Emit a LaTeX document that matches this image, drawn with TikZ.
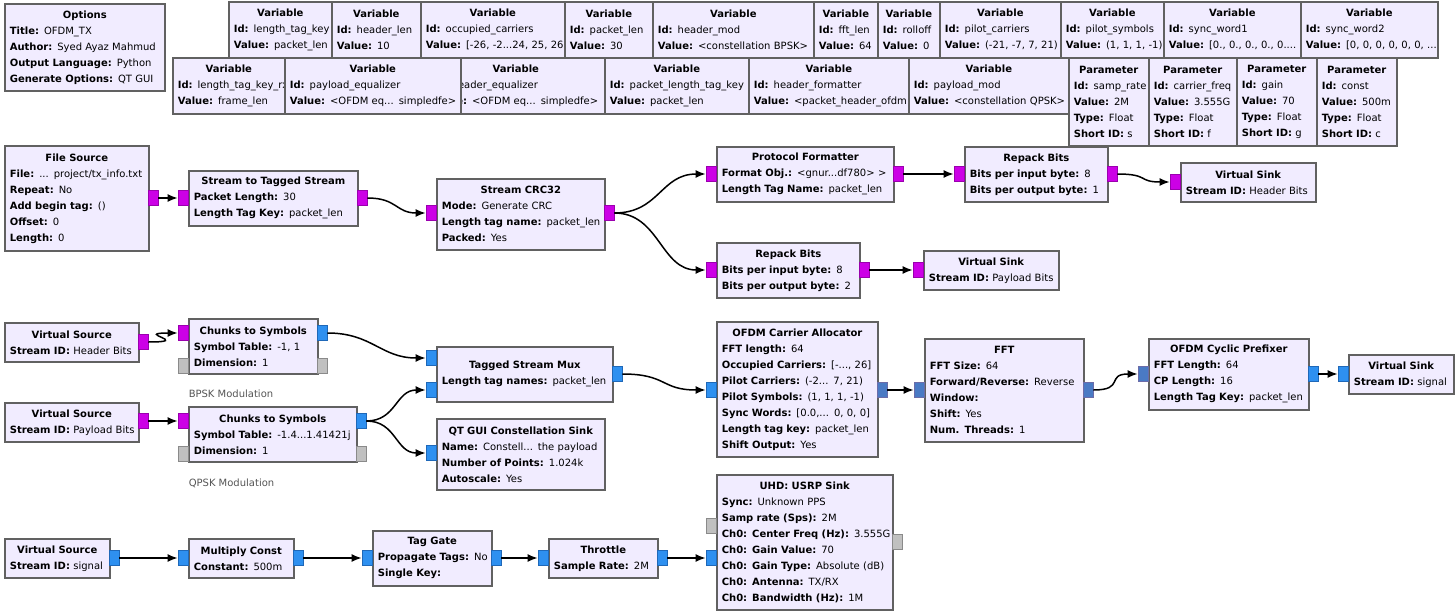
\documentclass[tikz,border=0pt]{standalone}
\usepackage{fontspec}
\setmainfont{DejaVu Sans}
\usetikzlibrary{arrows.meta,positioning}

\definecolor{blkfill}{HTML}{F1ECFF}
\definecolor{blkedge}{HTML}{616161}
\definecolor{bytefill}{HTML}{CC00E6}
\definecolor{byteedge}{HTML}{9A00AE}
\definecolor{cpxfill}{HTML}{2E90F0}
\definecolor{cpxedge}{HTML}{1F68B8}
\definecolor{vecfill}{HTML}{4A7AC4}
\definecolor{vecedge}{HTML}{6C6CA8}
\definecolor{msgfill}{HTML}{C0C0C0}
\definecolor{msgedge}{HTML}{8A8A8A}
\definecolor{notegray}{HTML}{555555}

\newcommand{\ttl}[1]{\makebox[\linewidth]{\textbf{#1}}}
\newcommand{\kv}[2]{\mbox{\textbf{#1:} #2}}

\tikzset{
  blk/.style 2 args={draw=blkedge,fill=blkfill,line width=1.6pt,anchor=north west,
    align=left,inner xsep=5pt,inner ysep=0pt,text width=#1pt,minimum height=#2pt,
    font=\fontsize{10}{16}\selectfont},
  port/.style={minimum width=10pt,minimum height=15pt,inner sep=0pt,line width=0.8pt},
  byt/.style={port,fill=bytefill,draw=byteedge},
  cpx/.style={port,fill=cpxfill,draw=cpxedge},
  vec/.style={port,fill=vecfill,draw=vecedge},
  msg/.style={port,fill=msgfill,draw=msgedge},
  note/.style={anchor=west,inner sep=0pt,text=notegray,font=\fontsize{10}{16}\selectfont}
}

\begin{document}
\begin{tikzpicture}[x=1pt,y=-1pt,->,>={Latex[length=10pt,width=8pt]},line width=1.5pt]
  \useasboundingbox (0,0) rectangle (1455,615);

  \node[blk={150}{87}] (opt) at (4,3) {\ttl{Options}\\\kv{Title}{OFDM\_TX}\\\kv{Author}{Syed Ayaz Mahmud}\\\kv{Output Language}{Python}\\\kv{Generate Options}{QT GUI}};

  \node[blk={93}{56}] (ltk) at (228,1) {\ttl{Variable}\\\kv{Id}{length\_tag\_key}\\\kv{Value}{packet\_len}};
  \node[blk={79}{56}] (hlen) at (331,1) {\ttl{Variable}\\\kv{Id}{header\_len}\\\kv{Value}{10}};
  \node[blk={134}{56}] (occ) at (420,1) {\ttl{Variable}\\\kv{Id}{occupied\_carriers}\\\kv{Value}{[-26, -2...24, 25, 26]}};
  \node[blk={78}{56}] (plen) at (564,1) {\ttl{Variable}\\\kv{Id}{packet\_len}\\\kv{Value}{30}};
  \node[blk={151}{56}] (hmod) at (652,1) {\ttl{Variable}\\\kv{Id}{header\_mod}\\\kv{Value}{<constellation BPSK>}};
  \node[blk={54}{56}] (fftlen) at (813,1) {\ttl{Variable}\\\kv{Id}{fft\_len}\\\kv{Value}{64}};
  \node[blk={52}{56}] (roll) at (877,1) {\ttl{Variable}\\\kv{Id}{rolloff}\\\kv{Value}{0}};
  \node[blk={111}{56}] (pcar) at (939,1) {\ttl{Variable}\\\kv{Id}{pilot\_carriers}\\\kv{Value}{(-21, -7, 7, 21)}};
  \node[blk={93}{56}] (psym) at (1060,1) {\ttl{Variable}\\\kv{Id}{pilot\_symbols}\\\kv{Value}{(1, 1, 1, -1)}};
  \node[blk={127}{56}] (sw1) at (1163,1) {\ttl{Variable}\\\kv{Id}{sync\_word1}\\\kv{Value}{[0., 0., 0., 0., 0....}};
  \node[blk={127}{56}] (sw2) at (1300,1) {\ttl{Variable}\\\kv{Id}{sync\_word2}\\\kv{Value}{[0, 0, 0, 0, 0, 0, ...}};

  \node[blk={102}{56}] (ltkrx) at (172,57) {\ttl{Variable}\\\kv{Id}{length\_tag\_key\_rx}\\\kv{Value}{frame\_len}};
  \node[blk={168}{56}] (heq) at (426,57) {\ttl{Variable}\\\kv{Id}{header\_equalizer}\\\kv{Value}{<OFDM eq... simpledfe>}};
  \node[blk={166}{56}] (peq) at (284,57) {\ttl{Variable}\\\kv{Id}{payload\_equalizer}\\\kv{Value}{<OFDM eq... simpledfe>}};
  \node[blk={134}{56}] (pltk) at (604,57) {\ttl{Variable}\\\kv{Id}{packet\_length\_tag\_key}\\\kv{Value}{packet\_len}};
  \node[blk={150}{56}] (hfmt) at (748,57) {\ttl{Variable}\\\kv{Id}{header\_formatter}\\\kv{Value}{<packet\_header\_ofdm}};
  \node[blk={150}{56}] (pmod) at (908,57) {\ttl{Variable}\\\kv{Id}{payload\_mod}\\\kv{Value}{<constellation QPSK>}};

  \node[blk={70}{88}] (srate) at (1068,57) {\ttl{Parameter}\\\kv{Id}{samp\_rate}\\\kv{Value}{2M}\\\kv{Type}{Float}\\\kv{Short ID}{s}};
  \node[blk={78}{88}] (cfreq) at (1148,57) {\ttl{Parameter}\\\kv{Id}{carrier\_freq}\\\kv{Value}{3.555G}\\\kv{Type}{Float}\\\kv{Short ID}{f}};
  \node[blk={70}{88}] (gain) at (1236,57) {\ttl{Parameter}\\\kv{Id}{gain}\\\kv{Value}{70}\\\kv{Type}{Float}\\\kv{Short ID}{g}};
  \node[blk={70}{88}] (const) at (1316,57) {\ttl{Parameter}\\\kv{Id}{const}\\\kv{Value}{500m}\\\kv{Type}{Float}\\\kv{Short ID}{c}};

  \node[blk={134}{105}] (fs) at (4,145) {\ttl{File Source}\\\kv{File}{... project/tx\_info.txt}\\\kv{Repeat}{No}\\\kv{Add begin tag}{()}\\\kv{Offset}{0}\\\kv{Length}{0}};
  \node[blk={159}{55}] (s2t) at (188,170) {\ttl{Stream to Tagged Stream}\\\kv{Packet Length}{30}\\\kv{Length Tag Key}{packet\_len}};
  \node[blk={158}{71}] (crc) at (436,178) {\ttl{Stream CRC32}\\\kv{Mode}{Generate CRC}\\\kv{Length tag name}{packet\_len}\\\kv{Packed}{Yes}};
  \node[blk={167}{55}] (pf) at (716,146) {\ttl{Protocol Formatter}\\\kv{Format Obj.}{<gnur...df780> >}\\\kv{Length Tag Name}{packet\_len}};
  \node[blk={133}{55}] (rp1) at (964,146) {\ttl{Repack Bits}\\\kv{Bits per input byte}{8}\\\kv{Bits per output byte}{1}};
  \node[blk={125}{39}] (vsk1) at (1180,162) {\ttl{Virtual Sink}\\\kv{Stream ID}{Header Bits}};
  \node[blk={133}{55}] (rp2) at (716,242) {\ttl{Repack Bits}\\\kv{Bits per input byte}{8}\\\kv{Bits per output byte}{2}};
  \node[blk={125}{39}] (vsk2) at (923,250) {\ttl{Virtual Sink}\\\kv{Stream ID}{Payload Bits}};

  \node[blk={124}{39}] (vs1) at (4,322) {\ttl{Virtual Source}\\\kv{Stream ID}{Header Bits}};
  \node[blk={119}{55}] (cts1) at (188,318) {\ttl{Chunks to Symbols}\\\kv{Symbol Table}{-1, 1}\\\kv{Dimension}{1}};
  \node[blk={124}{39}] (vs2) at (4,402) {\ttl{Virtual Source}\\\kv{Stream ID}{Payload Bits}};
  \node[blk={158}{55}] (cts2) at (188,406) {\ttl{Chunks to Symbols}\\\kv{Symbol Table}{-1.4...1.41421j}\\\kv{Dimension}{1}};
  \node[blk={166}{55}] (tsm) at (436,346) {\ttl{Tagged Stream Mux}\\\kv{Length tag names}{packet\_len}};
  \node[blk={158}{71}] (qt) at (436,418) {\ttl{QT GUI Constellation Sink}\\\kv{Name}{Constell... the payload}\\\kv{Number of Points}{1.024k}\\\kv{Autoscale}{Yes}};
  \node[note] (bpsk) at (188,394) {BPSK Modulation};
  \node[note] (qpsk) at (188,483) {QPSK Modulation};

  \node[blk={151}{135}] (oca) at (716,321) {\ttl{OFDM Carrier Allocator}\\\kv{FFT length}{64}\\\kv{Occupied Carriers}{[-..., 26]}\\\kv{Pilot Carriers}{(-2... 7, 21)}\\\kv{Pilot Symbols}{(1, 1, 1, -1)}\\\kv{Sync Words}{[0.0,... 0, 0, 0]}\\\kv{Length tag key}{packet\_len}\\\kv{Shift Output}{Yes}};
  \node[blk={149}{103}] (fft) at (924,338) {\ttl{FFT}\\\kv{FFT Size}{64}\\\kv{Forward/Reverse}{Reverse}\\\kv{Window}{}\\\kv{Shift}{Yes}\\\kv{Num. Threads}{1}};
  \node[blk={150}{71}] (cp) at (1148,338) {\ttl{OFDM Cyclic Prefixer}\\\kv{FFT Length}{64}\\\kv{CP Length}{16}\\\kv{Length Tag Key}{packet\_len}};
  \node[blk={95}{39}] (vsk3) at (1348,354) {\ttl{Virtual Sink}\\\kv{Stream ID}{signal}};

  \node[blk={95}{39}] (vs3) at (4,538) {\ttl{Virtual Source}\\\kv{Stream ID}{signal}};
  \node[blk={95}{39}] (mc) at (188,538) {\ttl{Multiply Const}\\\kv{Constant}{500m}};
  \node[blk={109}{55}] (tg) at (372,530) {\ttl{Tag Gate}\\\kv{Propagate Tags}{No}\\\kv{Single Key}{}};
  \node[blk={99}{39}] (th) at (548,538) {\ttl{Throttle}\\\kv{Sample Rate}{2M}};
  \node[blk={166}{135}] (usrp) at (716,474) {\ttl{UHD: USRP Sink}\\\kv{Sync}{Unknown PPS}\\\kv{Samp rate (Sps)}{2M}\\\kv{Ch0: Center Freq (Hz)}{3.555G}\\\kv{Ch0: Gain Value}{70}\\\kv{Ch0: Gain Type}{Absolute (dB)}\\\kv{Ch0: Antenna}{TX/RX}\\\kv{Ch0: Bandwidth (Hz)}{1M}};

  \node[byt] (fs-o) at (153,198) {};
  \node[byt] (s2t-i) at (183,198) {};
  \node[byt] (s2t-o) at (362,198) {};
  \node[byt] (crc-i) at (431,213) {};
  \node[byt] (crc-o) at (609,213) {};
  \node[byt] (pf-i) at (711,174) {};
  \node[byt] (pf-o) at (898,174) {};
  \node[byt] (rp1-i) at (959,174) {};
  \node[byt] (rp1-o) at (1112,174) {};
  \node[byt] (vsk1-i) at (1175,182) {};
  \node[byt] (rp2-i) at (711,270) {};
  \node[byt] (rp2-o) at (864,270) {};
  \node[byt] (vsk2-i) at (918,270) {};
  \node[byt] (vs1-o) at (143,342) {};
  \node[byt] (cts1-i) at (183,333) {};
  \node[cpx] (cts1-o) at (322,333) {};
  \node[msg] (cts1-mi) at (183,366) {};
  \node[msg] (cts1-mo) at (322,366) {};
  \node[byt] (vs2-o) at (143,421) {};
  \node[byt] (cts2-i) at (183,421) {};
  \node[cpx] (cts2-o) at (361,421) {};
  \node[msg] (cts2-mi) at (183,454) {};
  \node[msg] (cts2-mo) at (361,454) {};
  \node[cpx] (tsm-i1) at (431,358) {};
  \node[cpx] (tsm-i2) at (431,390) {};
  \node[cpx] (tsm-o) at (617,374) {};
  \node[cpx] (qt-i) at (431,453) {};
  \node[cpx] (oca-i) at (711,390) {};
  \node[vec] (oca-o) at (882,390) {};
  \node[vec] (fft-i) at (919,390) {};
  \node[vec] (fft-o) at (1088,390) {};
  \node[vec] (cp-i) at (1143,374) {};
  \node[cpx] (cp-o) at (1313,374) {};
  \node[cpx] (vsk3-i) at (1343,374) {};
  \node[cpx] (vs3-o) at (114,558) {};
  \node[cpx] (mc-i) at (183,558) {};
  \node[cpx] (mc-o) at (298,558) {};
  \node[cpx] (tg-i) at (367,558) {};
  \node[cpx] (tg-o) at (496,558) {};
  \node[cpx] (th-i) at (543,558) {};
  \node[cpx] (th-o) at (662,558) {};
  \node[cpx] (usrp-i) at (711,558) {};
  \node[msg] (usrp-m1) at (711,526) {};
  \node[msg] (usrp-m2) at (897,542) {};

  \draw (fs-o) -- (s2t-i);
  \draw (s2t-o) .. controls ([xshift=30] s2t-o.east) and ([xshift=-30] crc-i.west) .. (crc-i);
  \draw (crc-o) .. controls ([xshift=45] crc-o.east) and ([xshift=-45] pf-i.west) .. (pf-i);
  \draw (crc-o) .. controls ([xshift=45] crc-o.east) and ([xshift=-45] rp2-i.west) .. (rp2-i);
  \draw (pf-o) -- (rp1-i);
  \draw (rp1-o) .. controls ([xshift=32] rp1-o.east) and ([xshift=-32] vsk1-i.west) .. (vsk1-i);
  \draw (rp2-o) -- (vsk2-i);
  \draw (vs1-o) .. controls ([xshift=45] vs1-o.east) and ([xshift=-45] cts1-i.west) .. (cts1-i);
  \draw (vs2-o) -- (cts2-i);
  \draw (cts1-o) .. controls ([xshift=45] cts1-o.east) and ([xshift=-45] tsm-i1.west) .. (tsm-i1);
  \draw (cts2-o) .. controls ([xshift=30] cts2-o.east) and ([xshift=-30] tsm-i2.west) .. (tsm-i2);
  \draw (cts2-o) .. controls ([xshift=30] cts2-o.east) and ([xshift=-30] qt-i.west) .. (qt-i);
  \draw (tsm-o) .. controls ([xshift=45] tsm-o.east) and ([xshift=-45] oca-i.west) .. (oca-i);
  \draw (oca-o) -- (fft-i);
  \draw (fft-o) .. controls ([xshift=32] fft-o.east) and ([xshift=-32] cp-i.west) .. (cp-i);
  \draw (cp-o) -- (vsk3-i);
  \draw (vs3-o) -- (mc-i);
  \draw (mc-o) -- (tg-i);
  \draw (tg-o) -- (th-i);
  \draw (th-o) -- (usrp-i);
\end{tikzpicture}
\end{document}
